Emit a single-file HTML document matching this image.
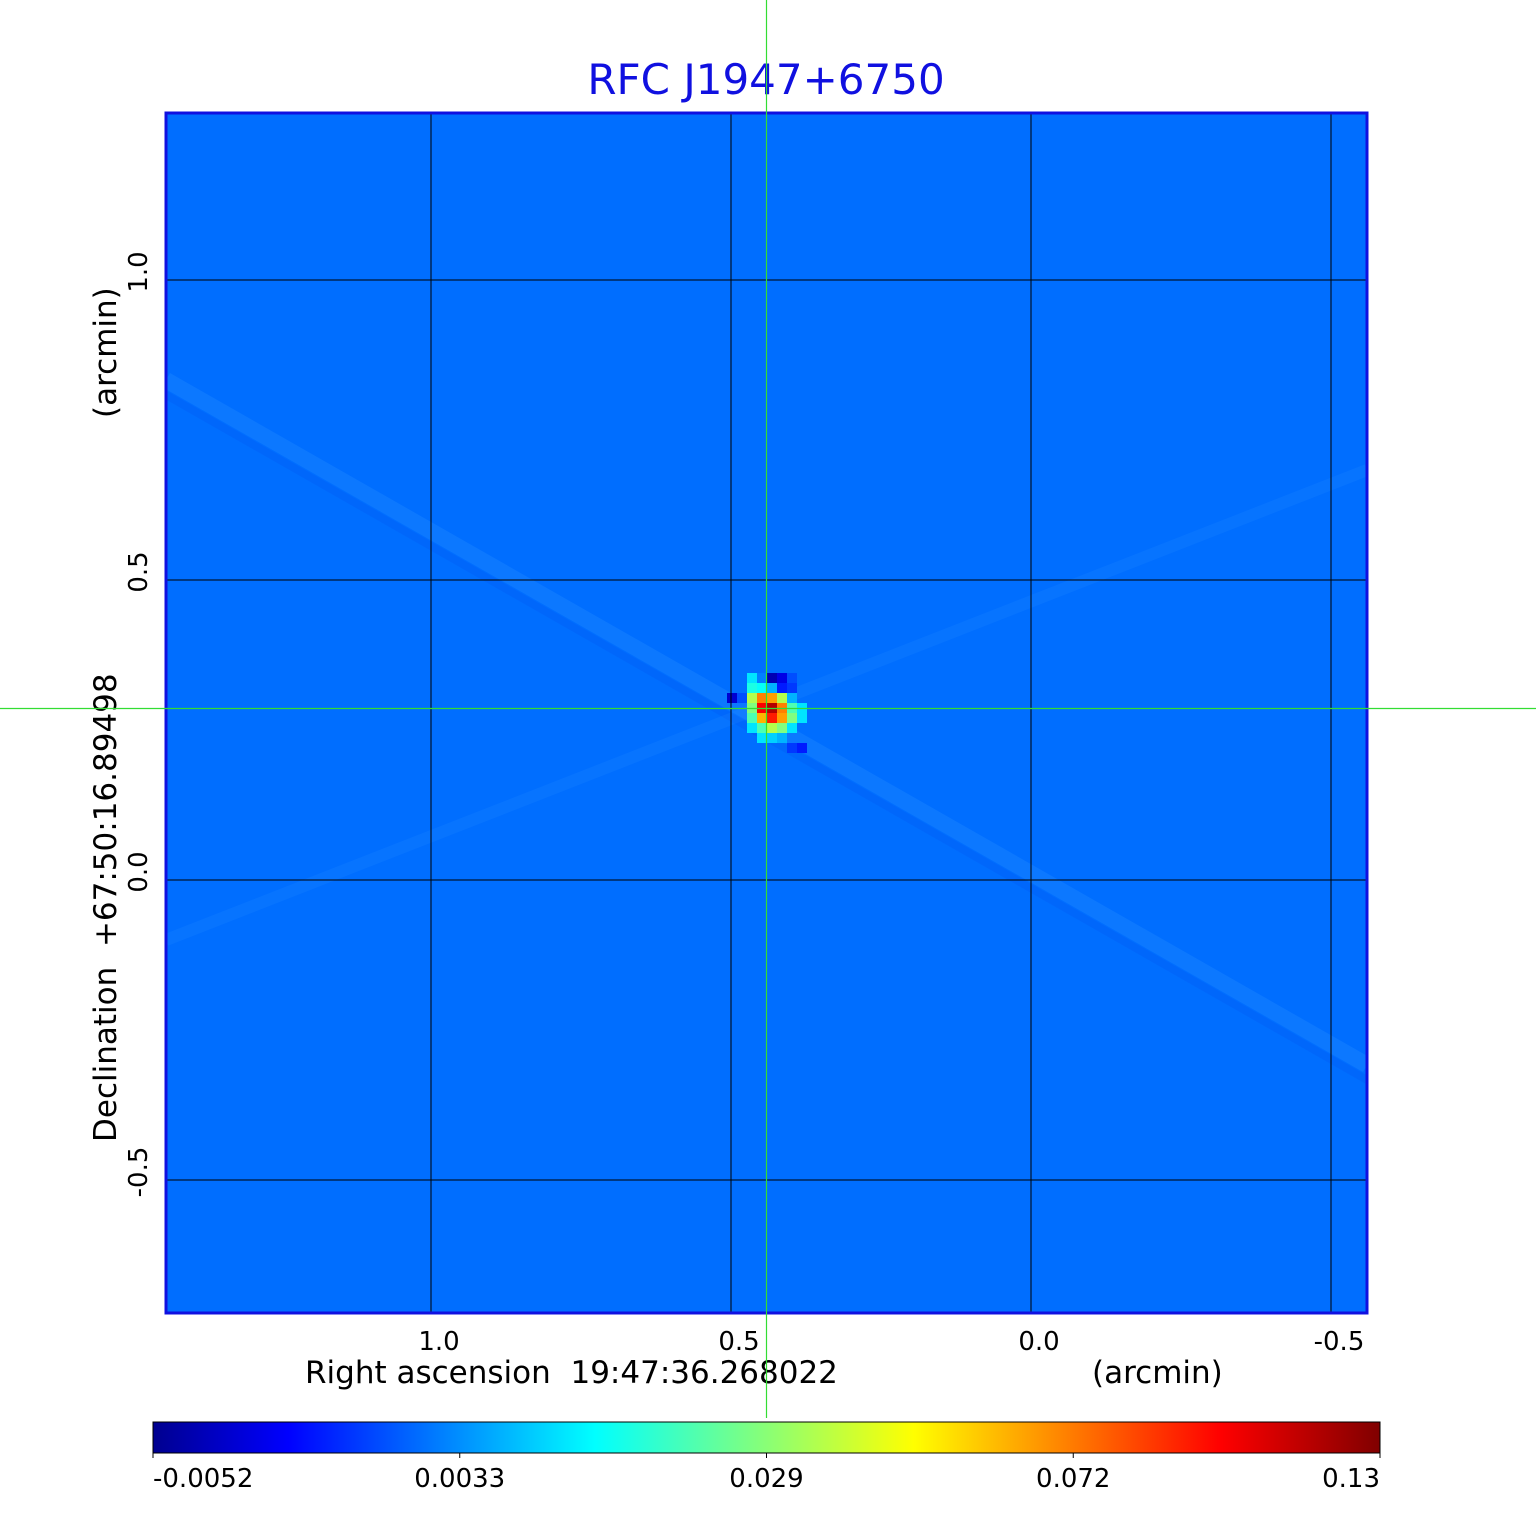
<!DOCTYPE html>
<html><head><meta charset="utf-8"><style>
body{margin:0;background:#fff;}
svg text{font-family:"DejaVu Sans","Liberation Sans",sans-serif;}
</style></head><body>
<svg width="1536" height="1511" viewBox="0 0 1536 1511" xmlns="http://www.w3.org/2000/svg">
<defs>
<linearGradient id="jet" x1="0" x2="1" y1="0" y2="0">
<stop offset="0" stop-color="#00008f"/><stop offset="0.11" stop-color="#0000ff"/><stop offset="0.36" stop-color="#00ffff"/><stop offset="0.62" stop-color="#ffff00"/><stop offset="0.87" stop-color="#ff0000"/><stop offset="1" stop-color="#800000"/>
</linearGradient>
<clipPath id="pc"><rect x="166" y="113" width="1201" height="1200"/></clipPath>
</defs>
<text x="766" y="94" font-size="42" fill="#1010e0" text-anchor="middle">RFC J1947+6750</text>
<rect x="166" y="113" width="1201" height="1200" fill="#006eff"/>
<g clip-path="url(#pc)">
<line x1="166" y1="380" x2="1367" y2="1065" stroke="#3fa0ff" stroke-width="16" opacity="0.2"/>
<line x1="166" y1="395" x2="1367" y2="1080" stroke="#0050f0" stroke-width="8" opacity="0.2"/>
<line x1="166" y1="940" x2="1367" y2="470" stroke="#3fa0ff" stroke-width="12" opacity="0.12"/>
</g>
<g id="cells"></g>
<g id="grid"></g>
<rect x="166" y="113" width="1201" height="1200" fill="none" stroke="#1010e0" stroke-width="3"/>
<g id="xt"></g>
<g id="yt"></g>
<text x="305" y="1383" font-size="31" xml:space="preserve">Right ascension  19:47:36.268022</text>
<text x="1092" y="1383" font-size="31">(arcmin)</text>
<text transform="translate(116,1142) rotate(-90)" font-size="31" xml:space="preserve">Declination  +67:50:16.89498</text>
<text transform="translate(116,418) rotate(-90)" font-size="31">(arcmin)</text>
<line x1="766.5" y1="0" x2="766.5" y2="1418" stroke="#33dd33" stroke-width="1.2"/>
<line x1="0" y1="708.5" x2="1536" y2="708.5" stroke="#33dd33" stroke-width="1.2"/>
<rect x="153" y="1422" width="1227" height="31" fill="url(#jet)" stroke="#000" stroke-width="1"/>
<g id="cb"></g>
</svg>
<script>
const xTicks=[1.0,0.5,0.0,-0.5];
const xTickLabels=["1.0","0.5","0.0","-0.5"];
const yTicks=[1.0,0.5,0.0,-0.5];
const yTickLabels=["1.0","0.5","0.0","-0.5"];
const cbTickLabels=["-0.0052","0.0033","0.029","0.072","0.13"];
const cbTickFrac=[0,0.25,0.5,0.75,1];
// source pixels: [col offset, row offset, normalized colour value]
const cellCols=[2,3,4,5,6, 2,3,4,5,6, 0,1,2,3,4,5,6, 2,3,4,5,6,7, 2,3,4,5,6,7, 2,3,4,5,6, 3,4,5, 6,7];
const cellRows=[0,0,0,0,0, 1,1,1,1,1, 2,2,2,2,2,2,2, 3,3,3,3,3,3, 4,4,4,4,4,4, 5,5,5,5,5, 6,6,6, 7,7];
const cellVals=[0.35,0.25,0.05,0.1,0.2, 0.4,0.38,0.3,0.15,0.18, 0.08,0.2,0.55,0.75,0.72,0.55,0.3, 0.5,0.88,0.95,0.75,0.45,0.35, 0.45,0.7,0.85,0.72,0.5,0.35, 0.35,0.45,0.55,0.5,0.35, 0.35,0.33,0.3, 0.18,0.15];
const NS="http://www.w3.org/2000/svg";
const xPos=v=>1031-v*600, yPos=v=>880-v*600;
const cx0=727, cy0=673, cs=10;
function jet(t){const c=x=>Math.round(255*Math.max(0,Math.min(1,1.5-Math.abs(4*t-x))));return `rgb(${c(3)},${c(2)},${c(1)})`;}
const cells=document.getElementById('cells');
cellVals.forEach((v,i)=>{const r=document.createElementNS(NS,'rect');


r.setAttribute('x',cx0+cellCols[i]*cs);r.setAttribute('y',cy0+cellRows[i]*cs);r.setAttribute('width',cs);r.setAttribute('height',cs);r.setAttribute('fill',jet(v));cells.appendChild(r);});
const grid=document.getElementById('grid'),xt=document.getElementById('xt'),yt=document.getElementById('yt');
xTicks.forEach((v,i)=>{const x=xPos(v);const l=document.createElementNS(NS,'line');


l.setAttribute('x1',x);l.setAttribute('x2',x);l.setAttribute('y1',113);l.setAttribute('y2',1313);l.setAttribute('stroke','#000');l.setAttribute('stroke-width','1');grid.appendChild(l);
const t=document.createElementNS(NS,'text');


t.setAttribute('x',x+8);t.setAttribute('y',1350);t.setAttribute('font-size','26');t.setAttribute('text-anchor','middle');t.textContent=xTickLabels[i];xt.appendChild(t);});
yTicks.forEach((v,i)=>{const y=yPos(v);const l=document.createElementNS(NS,'line');


l.setAttribute('x1',166);l.setAttribute('x2',1367);l.setAttribute('y1',y);l.setAttribute('y2',y);l.setAttribute('stroke','#000');l.setAttribute('stroke-width','1');grid.appendChild(l);
const t=document.createElementNS(NS,'text');


t.setAttribute('transform',`translate(147,${y-8}) rotate(-90)`);t.setAttribute('font-size','26');t.setAttribute('text-anchor','middle');t.textContent=yTickLabels[i];yt.appendChild(t);});
const cb=document.getElementById('cb');
cbTickLabels.forEach((s,i)=>{const x=153+cbTickFrac[i]*1227;const l=document.createElementNS(NS,'line');


l.setAttribute('x1',x);l.setAttribute('x2',x);l.setAttribute('y1',1453);l.setAttribute('y2',1458);l.setAttribute('stroke','#000');cb.appendChild(l);
const t=document.createElementNS(NS,'text');


t.setAttribute('x',i===0?153:(i===4?1380:x));t.setAttribute('y',1487);t.setAttribute('font-size','26');t.setAttribute('text-anchor',i===0?'start':(i===4?'end':'middle'));t.textContent=s;cb.appendChild(t);});
</script>
</body></html>
